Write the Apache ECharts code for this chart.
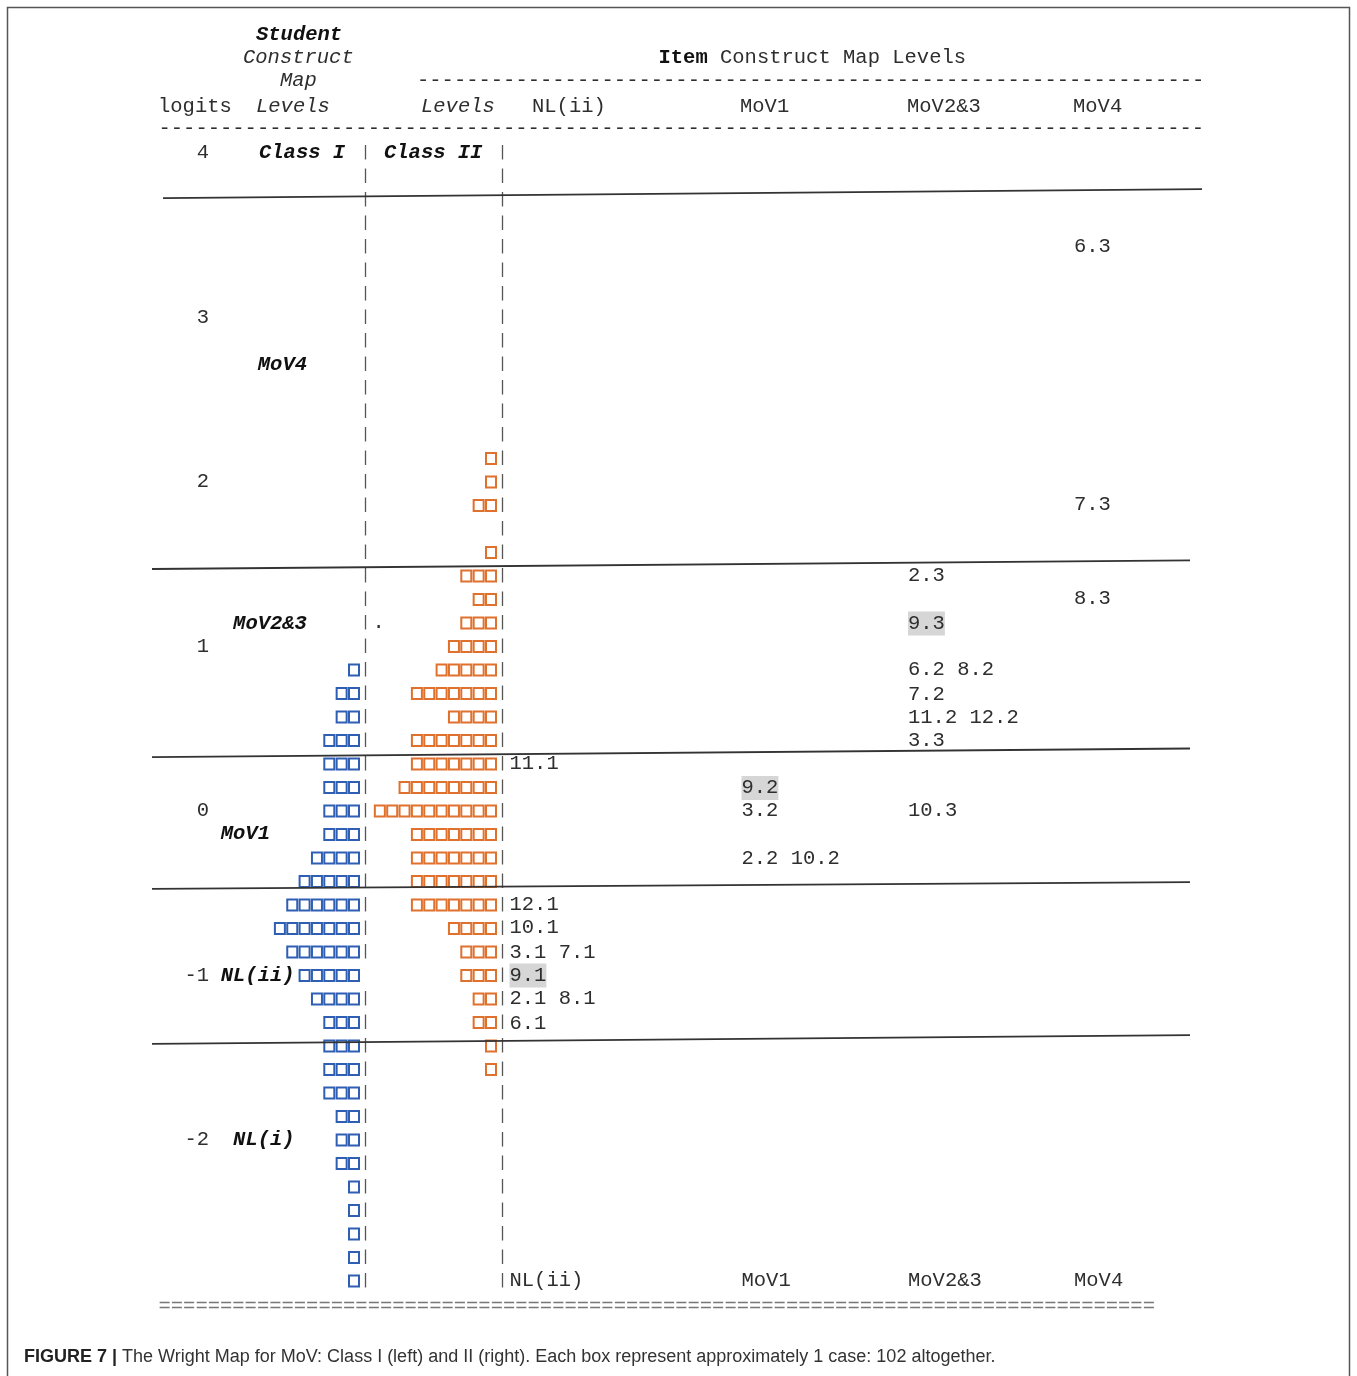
<!DOCTYPE html>
<html><head><meta charset="utf-8">
<script src="https://cdn.jsdelivr.net/npm/echarts@6/dist/echarts.min.js"></script>
<style>html,body{margin:0;padding:0;background:#fff}#c{width:1357px;height:1376px}</style>
</head><body><div id="c"></div>
<script>
// ================= DATA =================
const logitTicks = [4, 3, 2, 1, 0, -1, -2];
const topRowLogit = 4;
const rowsPerLogit = 7;
// boxes per row (each box ~ 1 case), from the top row (logit 4) downward
const classICounts  = [0,0,0,0,0,0,0,0,0,0, 0,0,0,0,0,0,0,0,0,0, 0,0,1,2,2,3,3,3,3,3, 4,5,6,7,6,5,4,3,3,3, 3,2,2,2,1,1,1,1,1];
const classIICounts = [0,0,0,0,0,0,0,0,0,0, 0,0,0,1,1,2,0,1,3,2, 3,4,5,7,4,7,7,8,10,7, 7,7,7,4,3,3,2,2,1,1, 0,0,0,0,0,0,0,0,0];
// item thresholds
const itemNames  = ['6.3','7.3','8.3','2.3','9.3','6.2','8.2','7.2','11.2','12.2','3.3','10.3','9.2','3.2','2.2','10.2','11.1','12.1','10.1','3.1','7.1','9.1','2.1','8.1','6.1'];
const itemLevels = ['MoV4','MoV4','MoV4','MoV2&3','MoV2&3','MoV2&3','MoV2&3','MoV2&3','MoV2&3','MoV2&3','MoV2&3','MoV2&3','MoV1','MoV1','MoV1','MoV1','NL(ii)','NL(ii)','NL(ii)','NL(ii)','NL(ii)','NL(ii)','NL(ii)','NL(ii)','NL(ii)'];
const itemLogits = [3.43,1.86,1.29,1.43,1.14,0.86,0.86,0.71,0.57,0.57,0.43,0.00,0.14,0.00,-0.29,-0.29,0.29,-0.57,-0.71,-0.86,-0.86,-1.00,-1.14,-1.14,-1.29];
const highlightedItems = ['9.3','9.2','9.1'];
const itemLevelNames = ['NL(ii)','MoV1','MoV2&3','MoV4'];
// student construct map levels
const studentLevels = ['MoV4','MoV2&3','MoV1','NL(ii)','NL(i)'];
const studentLevelLogits = [2.71, 1.14, -0.14, -1.00, -2.00];
// level cut lines (logit at left end / right end)
const cutLogitLeft  = [3.726, 1.471, 0.328, -0.474, -1.416];
const cutLogitRight = [3.781, 1.523, 0.380, -0.432, -1.362];

// ================= LAYOUT =================
const C = 12.35, X0 = 160;               // monospace cell width, column 0 position
const colOf = px => (px - X0) / C;
const Y_TOP_PX = 153, PX_PER_LOGIT = 164.5;
const yMin = -3, yMax = 4.5;
const gridTop = Y_TOP_PX - (yMax - 4) * PX_PER_LOGIT;
const gridH = (yMax - yMin) * PX_PER_LOGIT;
const rowLogit = r => topRowLogit - r / rowsPerLogit;
const nRows = classICounts.length;

const MONO = "'Liberation Mono', 'Courier New', monospace";
const FS = 20.5;
const TXT = '#2e2e2e';
const fReg = FS + 'px ' + MONO;
const fIt = 'italic ' + FS + 'px ' + MONO;
const fBI = 'italic bold ' + FS + 'px ' + MONO;
const fB = 'bold ' + FS + 'px ' + MONO;

const BOX_W = 12.0, BOX_H = 13.2, BOX_LW = 2.0;
const blueRightOuter = 360, orangeRightOuter = 497;
const blueRightCol = colOf(blueRightOuter - BOX_W / 2) + 0.5;
const orangeRightCol = colOf(orangeRightOuter - BOX_W / 2) + 0.5;
const blueSepCol = colOf(365.5), orangeSepCol = colOf(502.5);
const noBlueSepRows = [35];
const itemColStart = { 'NL(ii)': colOf(509.5), 'MoV1': colOf(741.5), 'MoV2&3': colOf(908), 'MoV4': colOf(1074) };
const studentLabelCol = [8, 6, 5, 5, 6];
const cutStartPx = [163, 152, 152, 152, 152];
const cutEndPx = [1202, 1190, 1190, 1190, 1190];

// group item labels sharing a row and a level
const groups = [];
itemNames.forEach((n, i) => {
  let g = groups.find(g => g.level === itemLevels[i] && g.logit === itemLogits[i]);
  if (!g) { g = { level: itemLevels[i], logit: itemLogits[i], names: [] }; groups.push(g); }
  g.names.push(n);
});

function boxSeries(counts, rightCol, color) {
  return {
    type: 'custom', coordinateSystem: 'cartesian2d', silent: true, z: 3,
    data: counts.map((n, r) => [rowLogit(r), n]),
    renderItem: (params, api) => {
      const y = api.value(0), n = api.value(1);
      const children = [];
      for (let k = 0; k < n; k++) {
        const p = api.coord([rightCol - k - 0.5, y]);
        children.push({ type: 'rect',
          shape: { x: p[0] - (BOX_W - BOX_LW) / 2, y: p[1] - (BOX_H - BOX_LW) / 2, width: BOX_W - BOX_LW, height: BOX_H - BOX_LW },
          style: { fill: 'none', stroke: color, lineWidth: BOX_LW } });
      }
      return { type: 'group', children };
    }
  };
}

const sepSeries = {
  type: 'custom', coordinateSystem: 'cartesian2d', silent: true, z: 2,
  data: Array.from({ length: nRows }, (_, r) => [rowLogit(r), r]),
  renderItem: (params, api) => {
    const y = api.value(0), r = api.value(1);
    const children = [];
    const cols = noBlueSepRows.includes(r) ? [orangeSepCol] : [blueSepCol, orangeSepCol];
    cols.forEach(c => {
      const p = api.coord([c, y]);
      children.push({ type: 'line', shape: { x1: p[0], y1: p[1] - 8, x2: p[0], y2: p[1] + 6.5 },
        style: { stroke: '#555', lineWidth: 1.3 } });
    });
    return { type: 'group', children };
  }
};

const itemTextSeries = {
  type: 'custom', coordinateSystem: 'cartesian2d', silent: true, z: 4,
  data: groups.map(g => [itemColStart[g.level], g.logit]),
  renderItem: (params, api) => {
    const g = groups[params.dataIndex];
    const p = api.coord([api.value(0), api.value(1)]);
    const hl = g.names.some(n => highlightedItems.includes(n));
    return { type: 'text', x: p[0], y: p[1],
      style: { text: g.names.join(' '), font: fReg, fill: TXT, align: 'left', verticalAlign: 'middle',
        backgroundColor: hl ? '#d6d6d6' : null, padding: hl ? [2, 0, 1, 0] : 0 } };
  }
};

const footerSeries = {
  type: 'custom', coordinateSystem: 'cartesian2d', silent: true, z: 4,
  data: itemLevelNames.map(l => [itemColStart[l], rowLogit(nRows - 1)]),
  renderItem: (params, api) => {
    const p = api.coord([api.value(0), api.value(1)]);
    return { type: 'text', x: p[0], y: p[1],
      style: { text: itemLevelNames[params.dataIndex], font: fReg, fill: TXT, align: 'left', verticalAlign: 'middle' } };
  }
};

const studentSeries = {
  type: 'custom', coordinateSystem: 'cartesian2d', silent: true, z: 4,
  data: studentLevels.map((l, i) => [studentLabelCol[i], studentLevelLogits[i]]),
  renderItem: (params, api) => {
    const p = api.coord([api.value(0), api.value(1)]);
    return { type: 'text', x: p[0] - 1, y: p[1],
      style: { text: studentLevels[params.dataIndex], font: fBI, fill: '#111', align: 'left', verticalAlign: 'middle' } };
  }
};

const cutSeries = cutLogitLeft.map((l, i) => ({
  type: 'line', silent: true, symbol: 'none', z: 5, clip: false,
  data: [[colOf(cutStartPx[i]), l], [colOf(cutEndPx[i]), cutLogitRight[i]]],
  lineStyle: { color: '#333', width: 1.8 }
}));

function t(x, y, text, font, fill) {
  return { type: 'text', x, y, silent: true,
    style: { text, font, fill: fill || TXT, align: 'left', verticalAlign: 'middle' } };
}

const CAP = "18px 'Liberation Sans', Arial, sans-serif";
const graphics = [
  { type: 'rect', shape: { x: 7.5, y: 7.5, width: 1342, height: 1420 }, style: { fill: 'none', stroke: '#555', lineWidth: 1.5 }, silent: true },
  t(256, 35, 'Student', fBI, '#111'),
  t(243, 58, 'Construct', fIt),
  t(280, 81, 'Map', fIt),
  t(158, 107, 'logits', fReg),
  t(256, 107, 'Levels', fIt),
  { type: 'text', x: 658.5, y: 58, silent: true,
    style: { text: '{b|Item} Construct Map Levels', font: fReg, fill: TXT, verticalAlign: 'middle',
      rich: { b: { font: fB, fill: '#111' } } } },
  t(417, 81, '-'.repeat(64), fReg),
  t(421, 107, 'Levels', fIt),
  t(532, 107, 'NL(ii)', fReg),
  t(740, 107, 'MoV1', fReg),
  t(907, 107, 'MoV2&3', fReg),
  t(1073, 107, 'MoV4', fReg),
  t(158.5, 129, '-'.repeat(85), fReg),
  t(259, 153, 'Class I', fBI, '#111'),
  t(384, 153, 'Class II', fBI, '#111'),
  t(372.5, 623, '.', fReg),
  t(158.5, 1307, '='.repeat(81), fReg, '#777'),
  { type: 'text', x: 24, y: 1357, silent: true,
    style: { text: '{b|FIGURE 7 |} The Wright Map for MoV: Class I (left) and II (right). Each box represent approximately 1 case: 102 altogether.',
      font: CAP, fill: '#333', verticalAlign: 'middle',
      rich: { b: { font: 'bold ' + CAP, fill: '#222' } } } }
];

const chart = echarts.init(document.getElementById('c'), null, { renderer: 'canvas' });
chart.setOption({
  backgroundColor: '#fff',
  animation: false,
  grid: { left: 0, width: 1357, top: gridTop, height: gridH },
  xAxis: { type: 'value', min: colOf(0), max: colOf(1357), show: false },
  yAxis: { type: 'value', min: yMin, max: yMax, interval: 0.5, offset: -210,
    axisLine: { show: false }, axisTick: { show: false }, splitLine: { show: false },
    axisLabel: { margin: 1, color: TXT, fontFamily: MONO, fontSize: FS,
      formatter: v => logitTicks.includes(v) ? String(v) : '' } },
  graphic: graphics,
  series: [
    sepSeries,
    boxSeries(classICounts, blueRightCol, '#2f5fb3'),
    boxSeries(classIICounts, orangeRightCol, '#e0712c'),
    itemTextSeries, footerSeries, studentSeries,
    ...cutSeries
  ]
});
</script></body></html>
